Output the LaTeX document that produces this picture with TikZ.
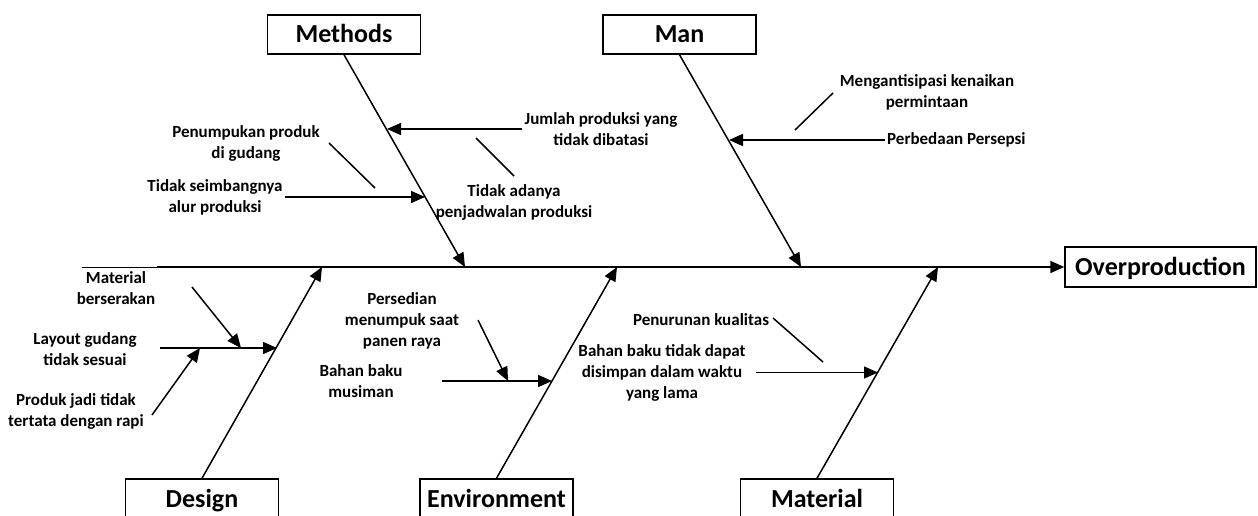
\documentclass[tikz,border=0pt]{standalone}
\usepackage{fontspec}
\setmainfont{Carlito}
\usetikzlibrary{arrows.meta}

\begin{document}
\begin{tikzpicture}[x=1pt,y=-1pt,
  catbox/.style={draw,line width=1.5pt,minimum width=153pt,minimum height=39pt,inner sep=0pt,text height=17pt,text depth=0pt,font=\fontsize{26}{30}\selectfont\bfseries},
  cause/.style={align=center,inner sep=2pt,font=\fontsize{17}{21}\selectfont\bfseries},
  bone/.style={line width=1.5pt,-{Triangle[length=14pt,width=12pt]}},
  plain/.style={line width=1.5pt}]
\useasboundingbox (0,0) rectangle (1258,516);
% Head and spine
\node[catbox,minimum width=191pt,minimum height=40pt] (over) at (1160.5,267) {Overproduction};
\coordinate (sp0) at (82,267);
\coordinate (sp1) at (157,267);
\draw[line width=1pt] (sp0) -- (sp1);
\draw[bone,line width=2pt] (sp1) -- (over.west);
% Category boxes
\node[catbox] (methods) at (344,34.5) {Methods};
\node[catbox] (man) at (679.5,34.5) {Man};
\node[catbox] (design) at (202,498.5) {Design};
\node[catbox] (env) at (496.5,498.5) {Environment};
\node[catbox] (mat) at (817,498.5) {Material};
\coordinate (mt) at (465,267);
\coordinate (nt) at (801,267);
\coordinate (dt) at (322,267);
\coordinate (et) at (617,267);
\coordinate (at) at (938,267);
\draw[bone] (methods.south) -- (mt);
\draw[bone] (man.south) -- (nt);
\draw[bone] (design.north) -- (dt);
\draw[bone] (env.north) -- (et);
\draw[bone] (mat.north) -- (at);
% Methods causes
\node[cause] (jumlah) at (601,129) {Jumlah produksi yang\\tidak dibatasi};
\node[cause] (tumpuk) at (246,143.5) {Penumpukan produk\\di gudang};
\node[cause] (seimbang) at (215,197) {Tidak seimbangnya\\alur produksi};
\node[cause] (jadwal) at (514,202) {Tidak adanya\\penjadwalan produksi};
\coordinate (j1) at (387,129);
\coordinate (s1) at (425,197);
\coordinate (t0) at (329,143);
\coordinate (t1) at (375,188);
\coordinate (a0) at (476,138);
\coordinate (a1) at (514,176);
\draw[bone] (jumlah.west) -- (j1);
\draw[bone] (seimbang.east) -- (s1);
\draw[plain] (t0) -- (t1);
\draw[plain] (a0) -- (a1);
% Man causes
\node[cause] (antisipasi) at (927,92.5) {Mengantisipasi kenaikan\\permintaan};
\node[cause,anchor=west] (persepsi) at (885,140) {Perbedaan Persepsi};
\coordinate (p1) at (729,140);
\coordinate (k0) at (833,93);
\coordinate (k1) at (795,130);
\draw[bone] (persepsi.west) -- (p1);
\draw[plain] (k0) -- (k1);
% Design causes
\node[cause] (serak) at (116,288.5) {Material\\berserakan};
\node[cause] (layout) at (85,349.5) {Layout gudang\\tidak sesuai};
\node[cause] (rapi) at (76,411) {Produk jadi tidak\\tertata dengan rapi};
\coordinate (l0) at (160,348);
\coordinate (l1) at (277,348);
\coordinate (r0) at (192,287);
\coordinate (r1) at (241,348);
\coordinate (q0) at (152,415);
\coordinate (q1) at (200,348);
\draw[bone] (l0) -- (l1);
\draw[bone] (r0) -- (r1);
\draw[bone] (q0) -- (q1);
% Environment causes
\node[cause] (panen) at (402,321) {Persedian\\menumpuk saat\\panen raya};
\node[cause] (musim) at (361,381) {Bahan baku\\musiman};
\coordinate (m0) at (442,381);
\coordinate (m1) at (552,381);
\coordinate (e0) at (478,320);
\coordinate (e1) at (508,381);
\draw[bone] (m0) -- (m1);
\draw[bone] (e0) -- (e1);
% Material causes
\node[cause] (kualitas) at (701,320) {Penurunan kualitas};
\node[cause] (simpan) at (662,372.5) {Bahan baku tidak dapat\\disimpan dalam waktu\\yang lama};
\coordinate (b0) at (756,372.5);
\coordinate (b1) at (878,372.5);
\coordinate (u0) at (773,318);
\coordinate (u1) at (823,362);
\draw[bone] (b0) -- (b1);
\draw[plain] (u0) -- (u1);
\end{tikzpicture}
\end{document}
